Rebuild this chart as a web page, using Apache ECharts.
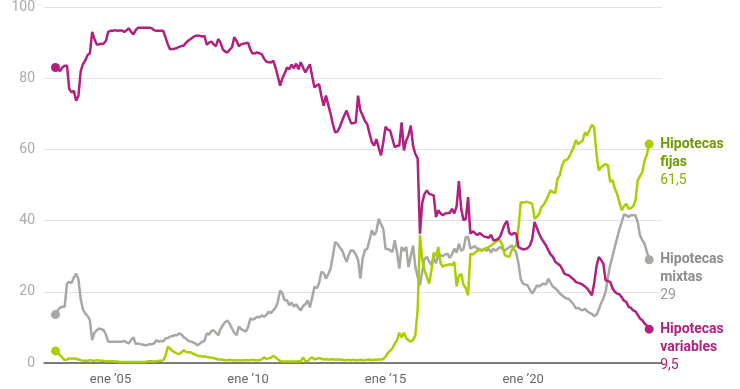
<!DOCTYPE html>
<html>
<head>
<meta charset="utf-8">
<script src="https://cdn.jsdelivr.net/npm/echarts@6/dist/echarts.min.js"></script>
<style>
html,body{margin:0;padding:0;background:#fff;}
#chart{width:740px;height:389px;}
</style>
</head>
<body>
<div id="chart"></div>
<script>
// Monthly shares (%) starting January 2003
const START_YEAR = 2003;
const xTickYears = [2005, 2010, 2015, 2020];
const yTicks = [0, 20, 40, 60, 80, 100];
const seriesNames = ['Hipotecas mixtas', 'Hipotecas fijas', 'Hipotecas variables'];

const variables = [
  83, 82.5, 82, 83, 83.5, 83.5, 77, 76, 76.5, 73.7, 75, 82,
  84, 85, 86.5, 87, 93, 91, 89.5, 89.5, 89.7, 89.7, 90.5, 93,
  93.3, 93.3, 93.5, 93.3, 93.4, 93.4, 93, 93.5, 94, 93, 92.3, 93.5,
  94.2, 94.2, 94.2, 94.2, 94.2, 94.2, 94, 93.5, 93.3, 93.3, 93.3, 93.3,
  91.5, 89.5, 88.1, 88.2, 88.3, 88.5, 88.8, 89, 89.2, 90, 90.6, 91,
  91.5, 91.9, 91.9, 91.9, 91.7, 91.9, 89.4, 90, 90.3, 89.5, 89, 91,
  90, 88.1, 87.5, 87.2, 88, 88.7, 91.5, 90.5, 89, 89.5, 89.7, 89.8,
  90, 88, 86.9, 87, 87.2, 87, 86.7, 85.5, 84.6, 84.5, 84.4, 84.9,
  83, 80.5, 77.9, 80, 81.4, 83, 82.5, 83.8, 82.8, 84.1, 82.5, 84.5,
  83, 81.6, 82.8, 83.9, 80.5, 77.4, 78, 78.3, 75, 72.3, 75.1, 72.5,
  70, 67.1, 64.8, 65, 66.2, 68, 69.5, 70.9, 69, 67.3, 67.4, 67.6,
  75.1, 71, 69.5, 68, 67.1, 64.5, 62, 61.1, 62.9, 60.5, 58.3, 62,
  66.4, 65.5, 65.3, 63, 60.6, 61, 61.1, 67.6, 59.7, 62.5, 64, 66.7,
  61, 58.7, 57.5, 36.3, 45, 47.5, 48.5, 47.5, 47.3, 47.1, 41, 42.9,
  42, 41.5, 42, 42.1, 42.1, 43.3, 42, 44, 51.1, 43.3, 40.1, 40.5,
  46.6, 36.3, 37, 36.5, 35.9, 36.5, 36, 35.5, 35.4, 35.2, 36, 34.5,
  34.5, 34.8, 35.5, 37.3, 39, 39.9, 36.5, 36, 36.5, 36.3, 32.6, 32.2,
  31.9, 32, 32.3, 33, 34.9, 39.6, 38, 36.3, 35, 34, 33, 31.7,
  30.5, 29.8, 28.5, 27.9, 27.5, 26.5, 25.1, 24.8, 24.6, 24, 23.5, 22.8,
  22.5, 22.3, 22, 21.5, 20.9, 20, 19, 22.3, 27, 29.8, 29, 27.9,
  23.2, 23, 22.8, 21, 20, 19.5, 19.3, 18.5, 17.5, 17.2, 15.8, 15.5,
  14.8, 14.5, 13.5, 12.5, 12, 11.1, 10.5, 9.5
];

const mixtas = [
  13.6, 14.8, 15.6, 15.8, 15.8, 22.3, 22.8, 22.5, 24, 25.1, 23.5, 18,
  15, 13.9, 13.2, 12, 6.4, 8.5, 9.2, 9.7, 9.5, 9.2, 8, 6,
  6, 6, 6, 6, 6, 6, 6.2, 5.8, 5.5, 6.5, 7.2, 5.3,
  5.5, 5.3, 5.2, 5, 5, 5.3, 5.2, 5.5, 6.4, 6, 6.2, 6,
  6.9, 7, 7.4, 7.6, 7.8, 7.8, 8.3, 8, 7.2, 6.8, 6.2, 6,
  5.8, 5.5, 5, 5.5, 6, 6.2, 8.3, 8, 9, 9.2, 8.5, 7.8,
  9.5, 10.6, 11.5, 11.9, 11, 9.7, 8.5, 7.8, 10.2, 9.5, 9.2, 8.8,
  10, 12.5, 12.2, 12.5, 13, 12.8, 13.4, 13, 13.5, 14.4, 14, 14.8,
  15.5, 17.2, 20.4, 19.5, 17.6, 17.6, 16.2, 17, 15.8, 16.5, 15.5, 14.8,
  16, 16.5, 17.6, 15.6, 18.5, 21.4, 21, 22.5, 25.6, 25.3, 23.7, 25,
  26.5, 30, 34, 33.5, 32.5, 31.7, 30, 28.4, 30.5, 31.7, 31.5, 30.5,
  29, 23.7, 29.3, 31.7, 32.1, 34.5, 37.3, 35.9, 37, 40.5, 39, 37.7,
  32.1, 32, 31.7, 31.2, 34.5, 31, 26.5, 32.6, 31.5, 32.6, 27, 30,
  33, 27, 24.2, 21.8, 25.6, 29.3, 29.8, 28.5, 27.5, 29.8, 28, 30.3,
  30.3, 30, 30.5, 30.7, 29.5, 30.5, 32.1, 31, 33.5, 31.5, 32, 35.4,
  35.4, 32.1, 32.5, 32.8, 32.1, 32.1, 31.5, 32.1, 31.5, 32.1, 31, 32.1,
  31.5, 32.1, 32.6, 32.1, 31.5, 32.1, 32.5, 33, 32, 31, 27.9, 23.5,
  22.3, 22, 21.8, 20.5, 19.5, 20.5, 21.8, 21.5, 22, 22.3, 22, 23.7,
  22.5, 21.5, 21, 20.4, 19.5, 19, 18.5, 18.1, 18, 17.2, 16.5, 15.3,
  15.5, 15, 14.8, 15.2, 14.5, 14.1, 13.8, 13.2, 13.5, 15, 16.7, 18.1,
  20, 24, 27.5, 30, 32.6, 35, 37.5, 39.5, 41.7, 41.5, 41, 41.5,
  41.5, 41.5, 39.6, 35.9, 34.5, 33.5, 31.2, 29
];

const fijas = [
  3.4, 2.8, 2.2, 1.5, 0.8, 1, 1.3, 1.2, 1.3, 1.2, 1, 0.8,
  0.6, 0.7, 0.6, 0.8, 0.7, 0.6, 0.8, 0.7, 0.6, 0.6, 0.5, 0.5,
  0.5, 0.5, 0.4, 0.4, 0.3, 0.3, 0.3, 0.3, 0.3, 0.3, 0.3, 0.3,
  0.3, 0.3, 0.3, 0.3, 0.4, 0.5, 0.5, 0.4, 0.5, 0.6, 0.6, 0.8,
  2, 4.6, 4, 3.4, 3, 2.7, 2.5, 3, 3.6, 3.1, 3, 3,
  2.6, 2.4, 2, 2, 1.8, 1.9, 1.7, 1.6, 1.5, 1.4, 1.2, 1,
  1, 0.9, 0.8, 0.8, 0.9, 0.8, 0.7, 0.8, 0.8, 0.7, 0.8, 0.8,
  0.8, 0.8, 0.9, 0.8, 0.8, 0.8, 1, 1.6, 1.2, 1.3, 1.5, 2,
  1.6, 1, 0.6, 0.4, 0.4, 0.4, 0.4, 0.4, 0.4, 0.4, 0.5, 0.4,
  1.6, 0.6, 0.5, 1.2, 1.6, 1, 1.2, 1.4, 1.2, 1, 1.1, 1,
  1, 1.1, 0.9, 1, 1, 0.9, 0.8, 0.8, 0.9, 0.8, 0.9, 0.8,
  0.8, 0.9, 0.8, 0.8, 0.9, 1, 0.8, 0.9, 0.9, 1, 1, 1.1,
  1.8, 2.8, 3.5, 4.1, 5.5, 6.4, 8.5, 7.2, 8.5, 7, 6.4, 6,
  6.5, 7.8, 15, 36, 29, 26, 24.2, 22.3, 26, 31, 30, 32.6,
  28, 27, 27.5, 27.5, 27.8, 27.5, 28.4, 21.5, 24.5, 25, 22, 21,
  19, 30.7, 30.5, 31, 31.5, 31.7, 31.5, 32, 32.3, 32.6, 33, 33.5,
  34, 34.5, 34.5, 33, 30.3, 30, 29.8, 31.7, 32.6, 33, 38.2, 45.2,
  45, 45.2, 45.2, 45, 44.7, 40.5, 41, 41.9, 43.8, 44.5, 45.7, 47,
  48.5, 48, 47.7, 51.7, 52.7, 55.5, 56.9, 57, 57.8, 59.2, 60.5, 62.6,
  61.5, 62, 62.5, 64.8, 64, 65.5, 66.9, 66.2, 58.7, 54.1, 55, 55.5,
  55.9, 55.5, 50.8, 51.4, 49, 47.5, 45.2, 42.9, 44, 44.7, 43.3, 43.5,
  44, 45.7, 51.3, 52.5, 53.6, 56.9, 58.5, 61.5
];

const COLORS = {
  mixtas: { line: '#a7a7a3', label: '#8c8c8c', value: '#9a9a9a' },
  fijas: { line: '#a8cf00', label: '#6f9a00', value: '#86b300' },
  variables: { line: '#b2207f', label: '#b2207f', value: '#b2207f' }
};

function toPoints(arr) {
  return arr.map((v, i) => [START_YEAR + i / 12, v]);
}

function makeSeries(name, arr, c) {
  const n = arr.length;
  const words = name.split(' ');
  return {
    name: name,
    type: 'line',
    data: toPoints(arr),
    showSymbol: true,
    symbol: 'circle',
    symbolSize: (val, params) => (params.dataIndex === 0 || params.dataIndex === n - 1) ? 9 : 0,
    itemStyle: { color: c.line },
    lineStyle: { color: c.line, width: 2.5 },
    emphasis: { disabled: true },
    endLabel: {
      show: true,
      distance: 11,
      offset: [0, 18],
      formatter: (p) => '{t|' + words[0] + '}\n{t|' + words[1] + '}\n{v|' + String(p.value[1]).replace('.', ',') + '}',
      rich: {
        t: { fontFamily: 'Roboto', fontWeight: 'bold', fontSize: 14, lineHeight: 18, color: c.label },
        v: { fontFamily: 'Roboto', fontSize: 14, lineHeight: 18, color: c.value }
      }
    }
  };
}

const chart = echarts.init(document.getElementById('chart'), null, { renderer: 'canvas' });
chart.setOption({
  animation: false,
  grid: { left: 44, right: 78, top: 6, bottom: 26, containLabel: false },
  xAxis: {
    type: 'value',
    min: 2002.582,
    max: 2025.05,
    splitLine: { show: false },
    axisTick: { show: false },
    axisLine: { show: true, lineStyle: { color: '#555', width: 1.5 } },
    axisLabel: {
      customValues: xTickYears,
      formatter: (v) => 'ene \u2019' + String(Math.round(v)).slice(2),
      color: '#666',
      fontFamily: 'Roboto',
      fontSize: 13,
      margin: 10
    }
  },
  yAxis: {
    type: 'value',
    min: yTicks[0],
    max: yTicks[yTicks.length - 1],
    interval: 20,
    axisLine: { show: false },
    axisTick: { show: false },
    splitLine: { lineStyle: { color: '#e3e3e3', width: 1 } },
    axisLabel: { color: '#aaa', fontFamily: 'Roboto', fontSize: 14, margin: 9 }
  },
  series: [
    makeSeries(seriesNames[0], mixtas, COLORS.mixtas),
    makeSeries(seriesNames[1], fijas, COLORS.fijas),
    makeSeries(seriesNames[2], variables, COLORS.variables)
  ]
});
</script>
</body>
</html>
